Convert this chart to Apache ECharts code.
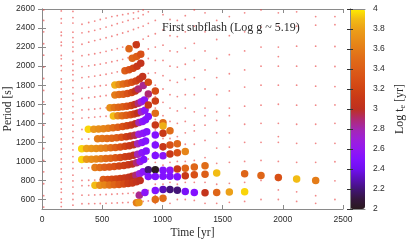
<!DOCTYPE html>
<html><head><meta charset="utf-8">
<script src="https://cdn.jsdelivr.net/npm/echarts@6/dist/echarts.min.js"></script>
<style>html,body{margin:0;padding:0;background:#fff}#c{width:409px;height:241px}</style>
</head><body><div id="c"></div>
<script>
// ---- axis ticks ----
const xTicks = [0, 500, 1000, 1500, 2000, 2500];
const yTicks = [600, 800, 1000, 1200, 1400, 1600, 1800, 2000, 2200, 2400, 2600];
const cbTicks = [2, 2.2, 2.4, 2.6, 2.8, 3, 3.2, 3.4, 3.6, 3.8, 4];

// ---- unstable modes (big circles): time [yr], period [s], log t_e [yr] ----
const fanT = [
 385,430,470,510,550,590,630,670,705,740,775,805,835,860,
 462,500,540,580,620,660,700,735,770,805,840,870,
 330,370,410,450,490,530,570,610,650,690,725,760,795,830,860,
 330,370,410,450,490,530,570,610,650,690,725,760,795,830,865,
 440,480,520,560,600,640,680,715,750,785,815,845,
 509,545,580,615,650,685,720,750,780,810,840,
 440,480,520,560,600,640,680,715,750,785,815,
 593,630,665,700,735,765,795,825,855,
 565,600,635,670,705,740,770,800,825,850,
 606,640,675,710,745,775,800,
 606,640,675,710,745,780,810,836,
 689,723,757,790,820,
 750,786,820,
 723,783,
 808,855,785,805
];
const fanP = [
 1337,1338,1340,1343,1347,1352,1358,1365,1373,1383,1395,1407,1420,1437,
 1238,1239,1241,1244,1248,1253,1259,1266,1274,1284,1296,1312,
 1133,1134,1135,1136,1138,1140,1143,1147,1152,1158,1165,1174,1185,1198,1214,
 1021,1022,1023,1025,1027,1030,1033,1037,1042,1048,1055,1064,1075,1090,1110,
 936,937,939,942,946,951,957,964,973,985,1000,1020,
 810,811,813,816,820,826,834,843,855,870,890,
 749,750,751,753,755,758,762,767,774,785,800,
 1477,1478,1480,1484,1490,1498,1508,1520,1536,
 1564,1566,1569,1573,1579,1587,1597,1610,1625,1645,
 1698,1701,1706,1713,1724,1740,1760,
 1802,1806,1812,1820,1830,1845,1865,1890,
 1951,1962,1978,2000,2030,
 2084,2100,2125,
 2182,2224,
 645,674,566,568
];
const fanC = [
 3.95,3.75,3.7,3.65,3.6,3.5,3.4,3.3,3.2,3.1,3.0,2.8,2.55,2.5,
 3.6,3.55,3.5,3.45,3.4,3.3,3.15,3.05,2.95,2.7,2.55,2.5,
 3.95,3.8,3.75,3.7,3.65,3.6,3.5,3.4,3.3,3.2,3.1,3.0,2.8,2.55,2.5,
 3.95,3.75,3.7,3.65,3.6,3.5,3.45,3.35,3.25,3.15,3.1,3.0,2.8,2.55,2.5,
 3.6,3.5,3.4,3.35,3.3,3.2,3.15,3.1,3.0,2.9,2.65,2.5,
 3.4,3.3,3.25,3.2,3.15,3.1,3.05,3.0,2.9,2.7,2.55,
 3.9,3.7,3.65,3.55,3.45,3.35,3.25,3.15,3.1,3.05,3.0,
 3.9,3.65,3.5,3.4,3.3,3.15,3.0,2.75,2.55,
 3.7,3.55,3.45,3.4,3.3,3.2,3.05,2.9,2.7,2.55,
 3.6,3.5,3.4,3.3,3.2,3.05,2.9,
 3.85,3.7,3.5,3.4,3.3,3.2,3.1,3.05,
 3.4,3.3,3.2,3.1,3.05,
 3.45,3.4,3.3,
 3.45,3.1,
 2.85,2.55,3.6,3.75
];
const lateT = [
 841,883,883,883,883,883,883,
 941,941,941,941,941,941,941,941,941,941,941,
 1005,1005,1005,1005,1005,1005,1005,1005,1005,
 1063,1063,1063,1063,1063,1063,
 1124,1124,1124,1124,1124,
 1190,1190,1190,1190,
 1265,1265,1265,
 1354,1354,1354,
 1451,1451,1556,1683,1683,1819,1963,2115,2273
];
const lateP = [
 1796,1832,1708,1593,1470,912,842,
 1740,1635,1505,1382,1277,1171,1063,912,842,695,600,
 1406,1372,1295,1154,1059,908,845,706,612,
 1322,1172,1077,908,843,706,
 1186,1091,919,838,696,
 1105,929,849,685,
 940,860,674,
 954,866,671,
 877,674,678,870,681,853,832,814,800
];
const lateC = [
 2.85,3.25,2.9,3.1,2.5,2.2,2.5,
 3.25,3.15,3.5,3.1,2.5,2.5,2.5,2.0,2.5,2.5,3.5,
 3.5,3.85,3.1,3.1,2.55,2.5,2.5,2.3,3.5,
 3.5,3.3,3.1,2.55,2.5,2.2,
 3.45,3.3,3.1,2.5,2.2,
 3.65,3.45,3.1,2.45,
 3.45,3.3,2.5,
 3.5,3.4,3.05,
 3.9,3.45,3.8,3.45,3.95,3.45,3.3,3.9,3.6
];

// ---- full mode spectrum (small dots) ----
const earlyTimes = [14, 160, 257];
const earlyCols = [
 [520,640,765,890,1010,1135,1255,1380,1500,1625,1745,1870,1990,2115,2235,2360,2480,2590],
 [525,570,605,675,710,780,815,885,920,990,1025,1095,1130,1200,1235,1305,1340,1410,1445,1515,1550,1620,1655,1725,1760,1831,1866,1953,2005,2077,2112,2217,2252,2322,2357,2452,2498,2580],
 [540,600,660,730,795,855,925,990,1050,1120,1185,1250,1315,1380,1445,1510,1575,1640,1710,1775,1849,1910,1954,2020,2059,2154,2200,2252,2300,2357,2452,2510,2575]
];
const midTimes = [332, 388, 438, 484, 532, 580, 625, 670, 715, 760, 800, 840, 883];
const midTracks = [
 [555,556,557,558,560,562,564,566,569,572,576,580,585],
 [645,646,648,650,652,655,658,661,665,670,676,684,694],
 [745,746,748,750,752,755,758,762,767,774,782,796,812],
 [800,802,804,807,810,813,816,820,826,836,848,866,890],
 [930,932,935,937,940,944,948,953,960,970,982,1000,1025],
 [1021,1022,1025,1027,1030,1034,1038,1044,1050,1060,1072,1090,1115],
 [1133,1134,1136,1138,1140,1144,1148,1154,1161,1172,1185,1200,1222],
 [1234,1235,1237,1238,1240,1244,1248,1253,1260,1270,1283,1298,1320],
 [1335,1337,1339,1342,1346,1351,1357,1364,1372,1384,1400,1418,1440],
 [1455,1460,1465,1470,1474,1477,1479,1483,1490,1500,1512,1527,1545],
 [1540,1545,1550,1556,1562,1566,1569,1575,1582,1594,1610,1632,1660],
 [1660,1668,1676,1684,1692,1700,1703,1709,1718,1732,1752,1778,1808],
 [1770,1778,1786,1794,1800,1806,1810,1818,1828,1842,1862,1890,1925],
 [1880,1888,1896,1905,1915,1927,1940,1955,1970,1992,2018,2045,2080],
 [1995,2003,2012,2022,2034,2046,2058,2072,2088,2104,2125,2150,2180],
 [2110,2120,2130,2142,2156,2170,2184,2200,2216,2236,2258,2284,2315],
 [2230,2252,2268,2282,2298,2314,2330,2348,2365,2385,2405,2421,2450],
 [2350,2362,2376,2392,2410,2428,2446,2463,2480,2497,2505,2540,2570],
 [2440,2458,2473,2490,2505,2520,2530,2540,2550,2560,2575,2590,null]
];
const lateTimes = [941, 1005, 1063, 1124, 1190, 1265, 1354, 1451, 1556, 1683, 1819, 1963, 2115, 2273, 2433];
const lateCols = [
 [560,640,760,880,990,1100,1210,1330,1440,1560,1680,1800,1930,2060,2200,2340,2480],
 [580,760,960,1120,1240,1360,1480,1620,1760,1900,2060,2220,2380,2540],
 [560,780,990,1240,1420,1560,1700,1850,2000,2160,2320,2490],
 [600,760,1000,1260,1400,1530,1680,1830,1990,2150,2310,2480],
 [600,780,1000,1180,1300,1420,1560,1700,1860,2020,2190,2360,2530],
 [590,780,1010,1180,1320,1380,1520,1700,1880,2060,2240,2420,2590],
 [560,780,1040,1220,1380,1480,1560,1760,1960,2160,2360,2560],
 [560,760,980,1140,1300,1430,1520,1700,1880,2080,2280,2480],
 [570,770,990,1150,1300,1480,1560,1740,1920,2120,2320,2520],
 [580,780,1000,1200,1390,1580,1780,1960,2160,2360,2560],
 [600,800,1010,1200,1400,1590,1800,2000,2200,2410,2590],
 [600,700,800,1000,1200,1260,1400,1600,1800,2000,2100,2200,2420,2560],
 [580,680,790,990,1190,1390,1590,1800,2000,2210,2420,2570],
 [560,640,790,990,1190,1390,1590,1790,2000,2210,2430,2520],
 [600,796,996,1190,1400,1593,1785,1996,2206,2435,2520]
];

// ---- build series data ----
const dots = [];
earlyTimes.forEach((t, i) => earlyCols[i].forEach(p => dots.push([t, p])));
midTracks.forEach(tr => tr.forEach((p, j) => { if (p != null) dots.push([midTimes[j], p]); }));
lateTimes.forEach((t, i) => lateCols[i].forEach(p => dots.push([t, p])));
const circles = [];
fanT.forEach((t, i) => circles.push([t, fanP[i], fanC[i]]));
lateT.forEach((t, i) => circles.push([t, lateP[i], lateC[i]]));

const SANS = 'Liberation Sans', SERIF = 'Liberation Serif';
const BORDER = '#8a8a8a', TXT = '#2a2a2a';
const cmap = ['#2a1a1e','#35163f','#431478','#5a10b8','#7010f0','#8212ff','#9418f0','#9e20d8','#a428b0','#b02a70','#be3020','#c83818','#d04414','#d85016','#dc5e18','#e06c18','#e47c18','#e88e18','#eca018','#f2bc14','#ffee00'];
const plain = v => String(Math.round(v * 10) / 10);

const tickStyle = { show: true, inside: true, length: 4, lineStyle: { color: BORDER } };
const chart = echarts.init(document.getElementById('c'), null, { renderer: 'canvas' });
chart.setOption({
  animation: false,
  backgroundColor: '#fff',
  title: { text: 'First subflash (Log g ~ 5.19)', left: 162, top: 22, padding: 0,
    textStyle: { fontFamily: SERIF, fontSize: 12, fontWeight: 'normal', color: TXT } },
  grid: [
    { left: 42, top: 9, width: 301, height: 200, containLabel: false, outerBoundsMode: 'none' },
    { left: 350, top: 9, width: 15, height: 200, containLabel: false, outerBoundsMode: 'none' }
  ],
  xAxis: [
    { gridIndex: 0, type: 'value', min: 0, max: 2500, interval: 500, position: 'bottom',
      axisLine: { show: true, lineStyle: { color: BORDER, width: 1 } }, axisTick: tickStyle,
      axisLabel: { fontFamily: SANS, fontSize: 8.5, color: TXT, margin: 6, formatter: plain },
      splitLine: { show: false },
      name: 'Time [yr]', nameLocation: 'middle', nameGap: 18, nameMoveOverlap: false,
      nameTextStyle: { fontFamily: SERIF, fontSize: 11.5, color: TXT } },
    { gridIndex: 0, type: 'value', min: 0, max: 2500, interval: 500, position: 'top',
      axisLine: { show: true, lineStyle: { color: BORDER, width: 1 } }, axisTick: tickStyle,
      axisLabel: { show: false }, splitLine: { show: false } },
    { gridIndex: 1, type: 'value', min: 0, max: 1, position: 'bottom', z: 10,
      axisLine: { show: true, lineStyle: { color: BORDER } }, axisTick: { show: false },
      axisLabel: { show: false }, splitLine: { show: false } },
    { gridIndex: 1, type: 'value', min: 0, max: 1, position: 'top', z: 10,
      axisLine: { show: true, lineStyle: { color: BORDER } }, axisTick: { show: false },
      axisLabel: { show: false }, splitLine: { show: false } }
  ],
  yAxis: [
    { gridIndex: 0, type: 'value', min: 500, max: 2600, interval: 100, position: 'left',
      axisLine: { show: true, lineStyle: { color: BORDER, width: 1 } },
      axisTick: Object.assign({ customValues: yTicks }, tickStyle),
      axisLabel: { customValues: yTicks, fontFamily: SANS, fontSize: 8.5, color: TXT, margin: 7, formatter: plain },
      splitLine: { show: false },
      name: 'Period [s]', nameLocation: 'middle', nameGap: 28, nameMoveOverlap: false,
      nameTextStyle: { fontFamily: SERIF, fontSize: 11.5, color: TXT } },
    { gridIndex: 0, type: 'value', min: 500, max: 2600, interval: 100, position: 'right',
      axisLine: { show: true, lineStyle: { color: BORDER, width: 1 } },
      axisTick: Object.assign({ customValues: yTicks }, tickStyle),
      axisLabel: { show: false }, splitLine: { show: false } },
    { gridIndex: 1, type: 'value', min: 2, max: 4, interval: 0.2, position: 'left', z: 10,
      axisLine: { show: true, lineStyle: { color: BORDER } },
      axisTick: { show: true, inside: true, length: 3, lineStyle: { color: '#333' } },
      axisLabel: { show: false }, splitLine: { show: false } },
    { gridIndex: 1, type: 'value', min: 2, max: 4, interval: 0.2, position: 'right', z: 10,
      axisLine: { show: true, lineStyle: { color: BORDER } },
      axisTick: { show: true, inside: true, length: 3, lineStyle: { color: '#333' } },
      axisLabel: { fontFamily: SANS, fontSize: 8.5, color: TXT, margin: 8, formatter: plain },
      splitLine: { show: false },
      name: '{n|Log t}{s|e}{n| [yr]}', nameLocation: 'middle', nameGap: 27, nameMoveOverlap: false,
      nameTextStyle: { fontFamily: SERIF, fontSize: 12, color: TXT,
        rich: { n: { fontFamily: SERIF, fontSize: 12, color: TXT },
                s: { fontFamily: SERIF, fontSize: 8, color: TXT, padding: [7, 0, 0, 0] } } } }
  ],
  visualMap: {
    type: 'continuous', min: 2, max: 4, dimension: 2, seriesIndex: 1,
    show: true, calculable: false, hoverLink: false, left: 350, top: 9,
    itemWidth: 15, itemHeight: 200, padding: 0, text: null,
    inRange: { color: cmap }
  },
  series: [
    { type: 'scatter', xAxisIndex: 0, yAxisIndex: 0, data: dots, symbolSize: 1.8, silent: true,
      itemStyle: { color: '#e83838', opacity: 0.6 } },
    { type: 'scatter', xAxisIndex: 0, yAxisIndex: 0, data: circles, symbolSize: 7.5, silent: true,
      itemStyle: { opacity: 1 } }
  ]
});
</script></body></html>
